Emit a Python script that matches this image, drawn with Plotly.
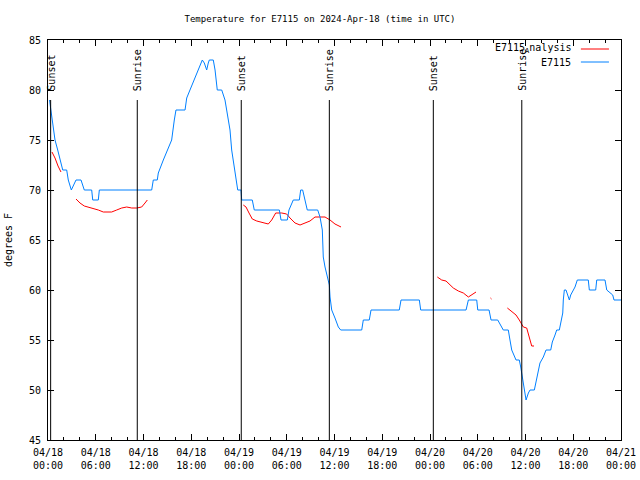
import pandas as pd
import plotly.graph_objects as go

start = pd.Timestamp("2024-04-18 00:00")

# E7115 observations: hours since 04/18 00:00 UTC, degrees F
obs_hours = [0.19, 0.38, 0.54, 0.88, 1.22, 1.51, 1.85, 2.35, 2.55, 2.93, 3.52, 4.15, 4.56, 5.49, 5.62,
             6.32, 6.45, 13.03, 13.23, 13.73, 13.86, 14.49, 15.12, 15.54, 15.87, 16.08, 17.22, 17.43,
             17.84, 18.26, 18.69, 19.10, 19.39, 19.64, 19.94, 20.14, 20.27, 20.77, 20.99, 21.27, 21.83,
             22.24, 22.53, 22.87, 23.08, 23.37, 23.71, 23.84, 24.25, 24.34, 25.67, 25.92, 29.07, 29.28,
             30.07, 30.28, 30.82, 31.58, 31.75, 32.00, 32.29, 32.58, 33.89, 34.18, 34.47, 34.59, 34.81,
             35.10, 35.35, 35.44, 35.65, 36.06, 36.48, 36.78, 39.42, 39.62, 40.37, 40.59, 44.14, 44.36,
             46.66, 46.83, 52.53, 52.82, 53.87, 54.00, 55.42, 55.67, 56.51, 57.21, 57.84, 58.05, 58.27,
             58.81, 59.22, 59.40, 59.56, 59.65, 59.85, 60.07, 60.36, 60.57, 61.11, 61.32, 61.61, 61.82,
             62.24, 62.58, 63.17, 63.37, 63.71, 63.92, 64.25, 64.46, 64.68, 64.75, 64.88, 65.09, 65.38,
             65.51, 65.68, 66.01, 66.22, 66.51, 67.89, 68.02, 68.82, 68.95, 69.99, 70.21, 70.96, 71.12,
             72.00]
obs_temp = [79, 78, 76.7, 75, 74, 73, 72, 72, 71, 70, 71, 71, 70, 70, 69,
            69, 70, 70, 71, 71, 71.7, 73, 74.2, 75, 77, 78, 78, 79.2,
            80, 80.8, 81.7, 82.5, 83, 82.7, 82, 82.7, 83, 83, 82, 80, 80,
            79, 77.7, 76, 74, 72.3, 70.7, 70, 70, 69, 69, 68, 68, 67,
            67, 68, 69, 69, 70, 70, 69, 68, 68, 67.3, 66, 63.3, 62.3,
            61.3, 60.5, 59.3, 58, 57.2, 56.3, 56, 56, 57, 57, 58, 58, 59,
            59, 58, 58, 59, 59, 58, 58, 57, 57, 56, 56, 55, 54,
            53, 53, 52.3, 51.5, 50.7, 49.7, 49, 49.7, 50, 50, 50.8, 52, 52.7,
            53.3, 54, 54, 54.8, 55.5, 56, 56, 56.8, 57.7, 59, 60, 60, 59.3,
            59, 59.5, 60, 60.3, 61, 61, 60, 60, 61, 61, 60, 59.5, 59,
            59]

# E7115_Analysis (None = gap)
ana_hours = [0.50, 0.88, 1.26, 1.63, None,
             3.52, 4.02, 4.56, 5.06, 5.69, 6.32, 6.95, 7.38, 8.00, 8.63, 9.26, 9.89, 10.52, 11.15,
             11.77, 12.19, 12.48, None,
             24.54, 24.88, 25.26, 25.67, 26.23, 26.85, 27.68, 28.11, 28.61, 29.37, 29.99, 30.41, 31.04,
             31.67, 32.29, 32.92, 33.55, 34.18, 34.81, 35.44, 36.06, 36.82, None,
             48.92, 49.47, 50.01, 50.51, 50.93, 51.56, 52.19, 52.82, 53.24, 53.78, None,
             55.60, 55.73, None,
             57.72, 58.27, 58.81, 59.22, 59.53, 59.73, 60.15, 60.36, 60.66, 60.78, 61.07]
ana_temp = [73.8, 73.2, 72.4, 71.8, None,
            69.1, 68.7, 68.4, 68.3, 68.2, 68.0, 67.8, 67.8, 67.8, 68.0, 68.2, 68.3, 68.2, 68.2,
            68.3, 68.7, 69.0, None,
            68.5, 68.3, 67.7, 67.1, 66.9, 66.8, 66.6, 67.0, 67.7, 67.7, 67.6, 67.2, 66.7,
            66.5, 66.7, 66.9, 67.3, 67.3, 67.3, 67.0, 66.6, 66.3, None,
            61.3, 61.0, 60.9, 60.5, 60.2, 59.9, 59.7, 59.3, 59.5, 59.8, None,
            59.2, 59.1, None,
            58.2, 57.8, 57.5, 57.0, 56.5, 56.3, 56.2, 55.5, 54.8, 54.4, 54.4]

sun_times = ["2024-04-18 00:20", "2024-04-18 11:13", "2024-04-19 00:17",
             "2024-04-19 11:21", "2024-04-20 00:25", "2024-04-20 11:32"]
sun_labels = ["Sunset", "Sunrise", "Sunset", "Sunrise", "Sunset", "Sunrise"]

def to_dt(hours):
    return [None if h is None else start + pd.Timedelta(hours=h) for h in hours]

FONT = "DejaVu Sans Mono"

fig = go.Figure()
fig.add_trace(go.Scatter(x=to_dt(ana_hours), y=ana_temp, mode="lines", name="E7115_Analysis",
                         line=dict(color="#ff0000", width=1), connectgaps=False, showlegend=False))
fig.add_trace(go.Scatter(x=to_dt(obs_hours), y=obs_temp, mode="lines", name="E7115",
                         line=dict(color="#0080ff", width=1), showlegend=False))

for t, lab in zip(sun_times, sun_labels):
    fig.add_shape(type="line", xref="x", yref="y", x0=t, x1=t, y0=45, y1=79,
                  line=dict(color="black", width=1))
    fig.add_annotation(x=t, y=79.7, xref="x", yref="y", text=lab, textangle=-90,
                       showarrow=False, xanchor="center", yanchor="bottom",
                       font=dict(family=FONT, size=10, color="black"))

# legend (text on the left, sample line on the right, as in the reference)
leg = [("E7115<sub>A</sub>nalysis", "#ff0000", 0.9775), ("E7115", "#0080ff", 0.945)]
for txt, col, yp in leg:
    fig.add_annotation(x=0.917, y=yp, xref="paper", yref="paper", text=txt, showarrow=False,
                       xanchor="right", yanchor="middle", font=dict(family=FONT, size=10, color="black"))
    fig.add_shape(type="line", xref="paper", yref="paper", x0=0.930, x1=0.979, y0=yp, y1=yp,
                  line=dict(color=col, width=1))

fig.update_layout(
    width=640, height=480,
    margin=dict(l=48, r=19, t=40, b=40, autoexpand=False),
    paper_bgcolor="white", plot_bgcolor="white",
    font=dict(family=FONT, size=10, color="black"),
    title=dict(text="Temperature for E7115 on 2024-Apr-18 (time in UTC)", x=0.5, xanchor="center",
               y=1 - 19 / 480, yanchor="middle", automargin=False,
               font=dict(family=FONT, size=9, color="black")),
    showlegend=False,
)
fig.update_xaxes(
    range=["2024-04-18 00:00", "2024-04-21 00:00"], automargin=False,
    type="date", tick0="2024-04-18 00:00", dtick=6 * 3600 * 1000,
    tickformat="%m/%d<br>%H:%M", ticklabelstandoff=3,
    ticks="inside", ticklen=6, tickcolor="black", tickwidth=1,
    minor=dict(dtick=2 * 3600 * 1000, ticks="inside", ticklen=3, tickcolor="black", tickwidth=1),
    showline=True, linecolor="black", linewidth=1, mirror="ticks",
    showgrid=False, zeroline=False, tickfont=dict(family=FONT, size=10, color="black"),
)
fig.update_yaxes(
    range=[45, 85], tick0=45, dtick=5, automargin=False, ticklabelstandoff=4,
    ticks="inside", ticklen=6, tickcolor="black", tickwidth=1,
    showline=True, linecolor="black", linewidth=1, mirror="ticks",
    showgrid=False, zeroline=False, tickfont=dict(family=FONT, size=10, color="black"),
    title=dict(text="degrees F", font=dict(family=FONT, size=10, color="black"), standoff=14),
)

fig.write_html("out.html", config={"displayModeBar": False},
               post_script="document.body.style.margin='0';")
